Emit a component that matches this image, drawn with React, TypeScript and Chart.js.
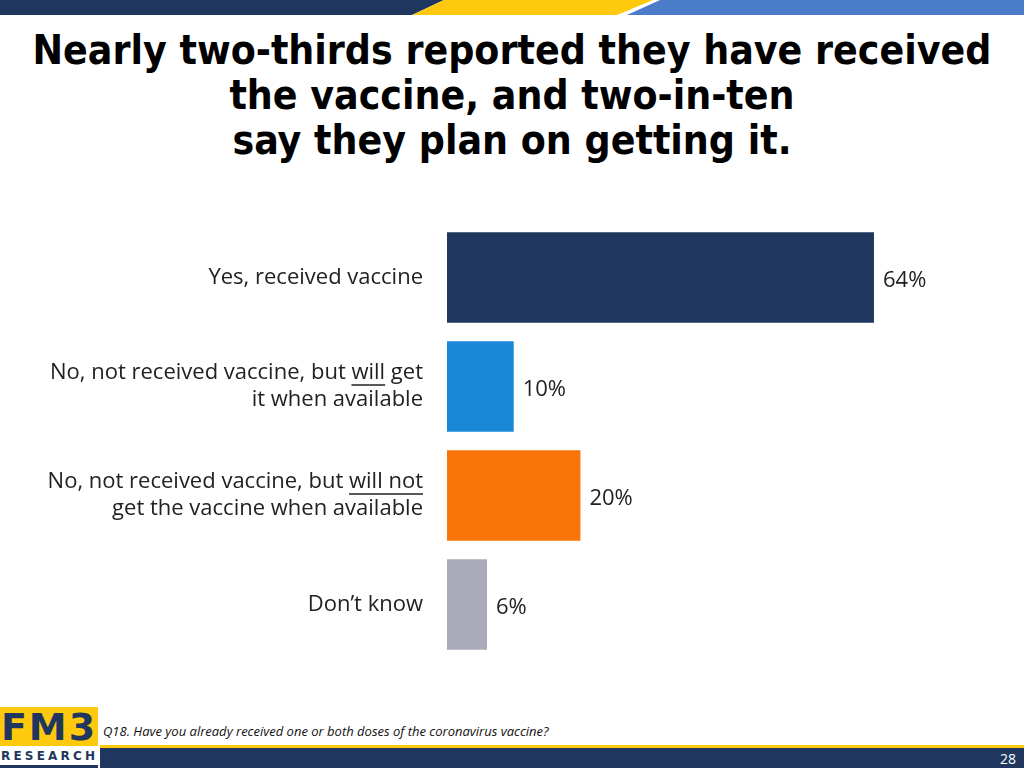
import React, { useEffect, useRef } from "react";
import Chart from "chart.js/auto";

const categoryLines: string[][] = [
  ["Yes, received vaccine"],
  ["No, not received vaccine, but _will_ get", "it when available"],
  ["No, not received vaccine, but _will not_", "get the vaccine when available"],
  ["Don’t know"],
];
const values: number[] = [64, 10, 20, 6];
const barColors: string[] = ["#1F375F", "#1A88D8", "#F97508", "#A9ABB8"];
const titleLines: string[] = [
  "Nearly two-thirds reported they have received",
  "the vaccine, and two-in-ten",
  "say they plan on getting it.",
];
const footnote = "Q18. Have you already received one or both doses of the coronavirus vaccine?";
const pageNumber = "28";

const BODY_FONT = "'Open Sans', 'DejaVu Sans', sans-serif";

const labelPlugin = {
  id: "customLabels",
  afterDatasetsDraw(chart: any) {
    const ctx = chart.ctx as CanvasRenderingContext2D;
    const yScale = chart.scales.y;
    const area = chart.chartArea;
    ctx.save();
    ctx.font = `22px ${BODY_FONT}`;
    ctx.fillStyle = "#222222";
    ctx.strokeStyle = "#222222";
    ctx.textBaseline = "middle";
    const lineGap = 27;
    categoryLines.forEach((lines, i) => {
      const cy = yScale.getPixelForValue(i);
      const rightX = area.left - 24;
      lines.forEach((line, li) => {
        const y = cy + (li - (lines.length - 1) / 2) * lineGap;
        const parts = line.split("_");
        const total = parts.reduce((s, p) => s + ctx.measureText(p).width, 0);
        let x = rightX - total;
        ctx.textAlign = "left";
        parts.forEach((p, pi) => {
          const w = ctx.measureText(p).width;
          ctx.fillText(p, x, y);
          if (pi % 2 === 1) {
            ctx.lineWidth = 1.5;
            ctx.beginPath();
            ctx.moveTo(x, y + 12);
            ctx.lineTo(x + w, y + 12);
            ctx.stroke();
          }
          x += w;
        });
      });
    });
    const meta = chart.getDatasetMeta(0);
    ctx.textAlign = "left";
    meta.data.forEach((bar: any, i: number) => {
      ctx.fillText(`${values[i]}%`, bar.x + 9, bar.y + 3);
    });
    ctx.restore();
  },
};

function BarChart() {
  const ref = useRef<HTMLCanvasElement | null>(null);
  useEffect(() => {
    if (!ref.current) return;
    const chart = new Chart(ref.current, {
      type: "bar",
      data: {
        labels: categoryLines.map((l) => l.join(" ").replace(/_/g, "")),
        datasets: [
          {
            data: values,
            backgroundColor: barColors,
            borderWidth: 0,
            categoryPercentage: 1,
            barPercentage: 0.83,
          },
        ],
      },
      options: {
        indexAxis: "y",
        animation: false,
        responsive: true,
        maintainAspectRatio: false,
        layout: { padding: { left: 447, right: 110, top: 0, bottom: 0 } },
        plugins: { legend: { display: false }, tooltip: { enabled: false } },
        scales: {
          x: { display: false, min: 0, max: 70 },
          y: { display: false },
        },
      },
      plugins: [labelPlugin],
    });
    return () => chart.destroy();
  }, []);
  return (
    <div style={{ position: "absolute", left: 0, top: 223, width: 1024, height: 436 }}>
      <canvas ref={ref} />
    </div>
  );
}

export default function App() {
  return (
    <div
      style={{
        position: "absolute",
        left: 0,
        top: 0,
        width: 1024,
        height: 768,
        overflow: "hidden",
        background: "#ffffff",
      }}
    >
      <svg width={1024} height={15} style={{ position: "absolute", left: 0, top: 0 }}>
        <polygon points="0,0 444,0 412,15 0,15" fill="#1F375F" />
        <polygon points="444,0 653,0 617,15 412,15" fill="#FFC90E" />
        <polygon points="660,0 1024,0 1024,15 627,15" fill="#4A7CC9" />
      </svg>
      <div
        style={{
          position: "absolute",
          left: 0,
          top: 28,
          width: 1024,
          textAlign: "center",
          fontFamily: "'DejaVu Sans Condensed', 'DejaVu Sans', sans-serif",
          fontWeight: "bold",
          fontSize: 40.6,
          lineHeight: "45px",
          color: "#000",
        }}
      >
        {titleLines.map((t, i) => (
          <div key={i}>{t}</div>
        ))}
      </div>
      <BarChart />
      {/* footer */}
      <div style={{ position: "absolute", left: 0, top: 707, width: 98, height: 39, background: "#FFC90E" }}>
        <div
          style={{
            fontFamily: "'DejaVu Sans', sans-serif",
            fontWeight: "bold",
            fontSize: 38,
            lineHeight: "40px",
            color: "#1F375F",
            textAlign: "center",
            letterSpacing: 2,
          }}
        >
          FM3
        </div>
      </div>
      <div
        style={{
          position: "absolute",
          left: 0,
          top: 747,
          width: 98,
          height: 18,
          fontFamily: "'DejaVu Sans', sans-serif",
          fontWeight: "bold",
          fontSize: 12,
          lineHeight: "18px",
          color: "#1F375F",
          letterSpacing: 3.2,
          textAlign: "left",
          paddingLeft: 1,
        }}
      >
        RESEARCH
      </div>
      <div style={{ position: "absolute", left: 0, top: 765, width: 98, height: 3, background: "#1F375F" }} />
      <div
        style={{
          position: "absolute",
          left: 103,
          top: 722,
          fontFamily: BODY_FONT,
          fontStyle: "italic",
          fontSize: 13,
          color: "#111",
          whiteSpace: "nowrap",
        }}
      >
        {footnote}
      </div>
      <div style={{ position: "absolute", left: 100, top: 745, width: 924, height: 3, background: "#FFC90E" }} />
      <div style={{ position: "absolute", left: 100, top: 748, width: 924, height: 20, background: "#1F375F" }} />
      <div
        style={{
          position: "absolute",
          right: 8,
          top: 749,
          fontFamily: BODY_FONT,
          fontSize: 14,
          color: "#ffffff",
        }}
      >
        {pageNumber}
      </div>
    </div>
  );
}
